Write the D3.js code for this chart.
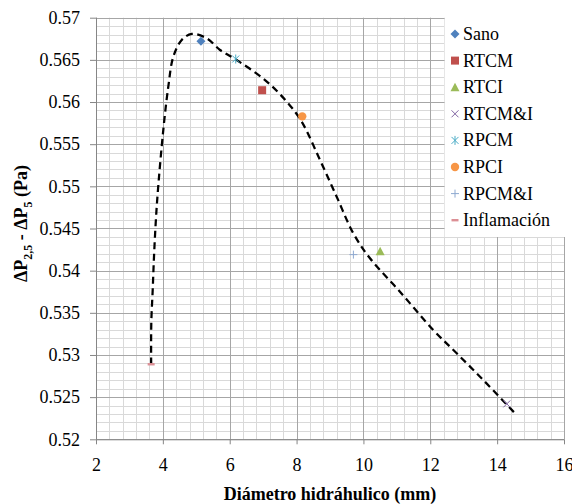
<!DOCTYPE html>
<html>
<head>
<meta charset="utf-8">
<script src="https://cdn.jsdelivr.net/npm/d3@7"></script>
<style>
  html, body { margin: 0; padding: 0; background: #fff; }
  svg { display: block; }
</style>
</head>
<body>
<svg id="chart" width="572" height="504"></svg>
<script>
// ---- Data ----
const seriesNames = ["Sano", "RTCM", "RTCI", "RTCM&I", "RPCM", "RPCI", "RPCM&I", "Inflamación"];
const seriesX = [5.14, 6.97, 10.50, 14.29, 6.18, 8.17, 9.70, 3.65];
const seriesY = [0.5672, 0.5614, 0.5423, 0.5242, 0.5651, 0.5583, 0.5419, 0.5289];
const seriesShapes = ["diamond", "square", "triangle", "times", "asterisk", "circle", "plus", "dash"];
const seriesColors = ["#4F81BD", "#C0504D", "#9BBB59", "#8064A2", "#4BACC6", "#F79646", "#8EA9D0", "#DC8F95"];

// dashed trend curve
const curveX = [3.65, 3.654, 3.696, 3.735, 3.786, 3.846, 4.013, 4.163, 4.313, 4.564, 4.863, 5.312, 5.71, 6.159, 7.056, 7.714, 8.153, 8.701, 9.20, 9.697, 10.196, 11.093, 12.09, 12.79, 13.586, 14.534];
const curveY = [0.5289, 0.5338, 0.5377, 0.54165, 0.54565, 0.54921, 0.55668, 0.56182, 0.56537, 0.56736, 0.56807, 0.56756, 0.56617, 0.5651, 0.56261, 0.5600, 0.55767, 0.55312, 0.54877, 0.54443, 0.54147, 0.5375, 0.53296, 0.5302, 0.52703, 0.52308];

const xTicks = [2, 4, 6, 8, 10, 12, 14, 16];
const xTickLabels = ["2", "4", "6", "8", "10", "12", "14", "16"];
const yTicks = [0.52, 0.525, 0.53, 0.535, 0.54, 0.545, 0.55, 0.555, 0.56, 0.565, 0.57];
const yTickLabels = ["0.52", "0.525", "0.53", "0.535", "0.54", "0.545", "0.55", "0.555", "0.56", "0.565", "0.57"];
const xMinorStep = 0.4;
const yMinorStep = 0.001;

const FONT = "Liberation Serif";

// ---- Layout ----
const plot = { left: 96, right: 564, top: 17.7, bottom: 439.3 };
const svg = d3.select("#chart");

const x = d3.scaleLinear().domain([2, 16]).range([plot.left, plot.right]);
const y = d3.scaleLinear().domain([0.52, 0.57]).range([plot.bottom, plot.top]);

// grid
const grid = svg.append("g");
const xMinor = d3.range(2, 16.0001, xMinorStep).filter(v => !xTicks.some(t => Math.abs(t - v) < 1e-6));
const yMinor = d3.range(0.52, 0.57001, yMinorStep).filter(v => !yTicks.some(t => Math.abs(t - v) < 1e-7));

grid.selectAll(".xmin").data(xMinor).join("line")
  .attr("x1", d => Math.round(x(d)) + 0.5).attr("x2", d => Math.round(x(d)) + 0.5)
  .attr("y1", plot.top).attr("y2", plot.bottom)
  .attr("stroke", "#d9d9d9").attr("stroke-width", 1);
grid.selectAll(".ymin").data(yMinor).join("line")
  .attr("y1", d => Math.round(y(d)) + 0.5).attr("y2", d => Math.round(y(d)) + 0.5)
  .attr("x1", plot.left).attr("x2", plot.right)
  .attr("stroke", "#d9d9d9").attr("stroke-width", 1);
grid.selectAll(".xmaj").data(xTicks).join("line")
  .attr("x1", d => Math.round(x(d)) + 0.5).attr("x2", d => Math.round(x(d)) + 0.5)
  .attr("y1", plot.top).attr("y2", plot.bottom)
  .attr("stroke", "#a6a6a6").attr("stroke-width", 1);
grid.selectAll(".ymaj").data(yTicks).join("line")
  .attr("y1", d => Math.round(y(d)) + 0.5).attr("y2", d => Math.round(y(d)) + 0.5)
  .attr("x1", plot.left).attr("x2", plot.right)
  .attr("stroke", "#a6a6a6").attr("stroke-width", 1);

// axes
const xAxis = d3.axisBottom(x).tickValues(xTicks).tickFormat((d, i) => xTickLabels[i]).tickSize(5).tickPadding(14);
const gx = svg.append("g").attr("transform", `translate(0,${plot.bottom})`).call(xAxis);
gx.selectAll("path, line").attr("stroke", "#868686");
gx.selectAll("text").style("font-family", FONT).style("font-size", "18px").attr("fill", "#000");

const yAxis = d3.axisLeft(y).tickValues(yTicks).tickFormat((d, i) => yTickLabels[i]).tickSize(6).tickPadding(10);
const gy = svg.append("g").attr("transform", `translate(${plot.left},0)`).call(yAxis);
gy.selectAll("path, line").attr("stroke", "#868686");
gy.selectAll("text").style("font-family", FONT).style("font-size", "18px").attr("fill", "#000");
gx.select(".domain").attr("d", `M${plot.left},0.5H${plot.right}`);
gy.select(".domain").attr("d", `M0.5,${plot.top}V${plot.bottom}`);

// dashed curve
const curvePts = curveX.map((v, i) => [v, curveY[i]]);
svg.append("path")
  .datum(curvePts)
  .attr("d", d3.line().x(d => x(d[0])).y(d => y(d[1])).curve(d3.curveCatmullRom.alpha(0.5)))
  .attr("fill", "none").attr("stroke", "#000").attr("stroke-width", 2.25)
  .attr("stroke-dasharray", "7,4.5");

// marker drawing
function drawMarker(g, shape, color, cx, cy) {
  if (shape === "diamond") {
    g.append("path").attr("d", `M${cx},${cy-4.5}L${cx+4.5},${cy}L${cx},${cy+4.5}L${cx-4.5},${cy}Z`).attr("fill", color);
  } else if (shape === "square") {
    g.append("rect").attr("x", cx - 4).attr("y", cy - 4).attr("width", 8).attr("height", 8).attr("fill", color);
  } else if (shape === "triangle") {
    g.append("path").attr("d", `M${cx},${cy-4.5}L${cx+4.5},${cy+4}L${cx-4.5},${cy+4}Z`).attr("fill", color);
  } else if (shape === "circle") {
    g.append("circle").attr("cx", cx).attr("cy", cy).attr("r", 4.2).attr("fill", color);
  } else if (shape === "times") {
    g.append("path").attr("d", `M${cx-3.5},${cy-3.5}L${cx+3.5},${cy+3.5}M${cx-3.5},${cy+3.5}L${cx+3.5},${cy-3.5}`)
      .attr("stroke", color).attr("stroke-width", 1).attr("fill", "none");
  } else if (shape === "asterisk") {
    g.append("path").attr("d", `M${cx-3.5},${cy-3.5}L${cx+3.5},${cy+3.5}M${cx-3.5},${cy+3.5}L${cx+3.5},${cy-3.5}M${cx},${cy-4.5}L${cx},${cy+4.5}`)
      .attr("stroke", color).attr("stroke-width", 1).attr("fill", "none");
  } else if (shape === "plus") {
    g.append("path").attr("d", `M${cx-4},${cy}L${cx+4},${cy}M${cx},${cy-4}L${cx},${cy+4}`)
      .attr("stroke", color).attr("stroke-width", 1).attr("fill", "none");
  } else if (shape === "dash") {
    g.append("rect").attr("x", cx - 3.5).attr("y", cy - 1.2).attr("width", 7).attr("height", 2.4).attr("fill", color);
  }
}

const marks = svg.append("g");
seriesNames.forEach((n, i) => {
  drawMarker(marks, seriesShapes[i], seriesColors[i], x(seriesX[i]), y(seriesY[i]));
});

// legend
const legend = svg.append("g");
legend.append("rect").attr("x", x(12.4) + 1).attr("y", plot.top - 1).attr("width", 572 - x(12.4) - 1)
  .attr("height", Math.round(y(0.544)) - plot.top + 1).attr("fill", "#fff");
seriesNames.forEach((n, i) => {
  const by = 40 + i * 26.6;
  drawMarker(legend, seriesShapes[i], seriesColors[i], 455, by - 6);
  legend.append("text").attr("x", 463).attr("y", by)
    .style("font-family", FONT).style("font-size", "18px").attr("fill", "#000").text(n);
});

// axis titles
svg.append("text")
  .attr("x", (plot.left + plot.right) / 2).attr("y", 500)
  .attr("text-anchor", "middle")
  .style("font-family", FONT).style("font-weight", "bold").style("font-size", "18px")
  .text("Diámetro hidráhulico (mm)");

const yt = svg.append("text")
  .attr("transform", `translate(27,${(plot.top + plot.bottom) / 2 - 5}) rotate(-90)`)
  .attr("text-anchor", "middle")
  .style("font-family", FONT).style("font-weight", "bold").style("font-size", "18px");
yt.append("tspan").text("ΔP");
yt.append("tspan").style("font-size", "12px").attr("dy", 5).text("2,5");
yt.append("tspan").attr("dy", -5).text(" - ΔP");
yt.append("tspan").style("font-size", "12px").attr("dy", 5).text("5");
yt.append("tspan").attr("dy", -5).text(" (Pa)");
</script>
</body>
</html>
